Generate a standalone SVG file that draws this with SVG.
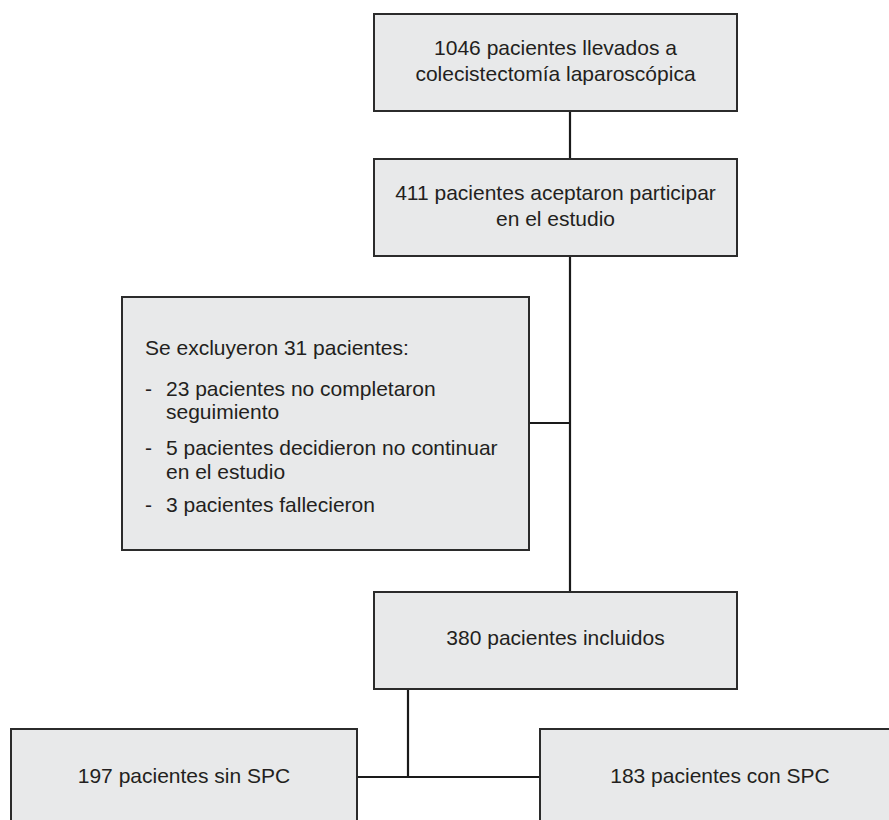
<svg xmlns="http://www.w3.org/2000/svg" width="889" height="820" viewBox="0 0 889 820">
<style>
.box{fill:#e8e9ea;stroke:#2b2b2b;stroke-width:2}
.t{font-family:"Liberation Sans",Arial,sans-serif;font-size:21px;fill:#231f20}
.c{text-anchor:middle}
.ln{stroke:#1a1a1a;stroke-width:2.2;fill:none}
</style>
<rect width="889" height="820" fill="#fff"/>
<g id="connectors">
<line class="ln" x1="570" y1="111" x2="570" y2="159"/>
<line class="ln" x1="570" y1="256" x2="570" y2="592"/>
<line class="ln" x1="529" y1="423" x2="570" y2="423"/>
<line class="ln" x1="408" y1="689" x2="408" y2="777"/>
<line class="ln" x1="357" y1="777" x2="540" y2="777"/>
</g>
<g id="n1">
<rect class="box" x="374" y="14" width="363" height="97"/>
<text class="t c" x="555.5" y="55">1046 pacientes llevados a</text>
<text class="t c" x="555.5" y="81">colecistectomía laparoscópica</text>
</g>
<g id="n2">
<rect class="box" x="374" y="159" width="363" height="97"/>
<text class="t c" x="555.5" y="200">411 pacientes aceptaron participar</text>
<text class="t c" x="555.5" y="226">en el estudio</text>
</g>
<g id="excl">
<rect class="box" x="122" y="297" width="407" height="253"/>
<text class="t" x="145" y="355">Se excluyeron 31 pacientes:</text>
<text class="t" x="145" y="396">-</text>
<text class="t" x="166" y="396">23 pacientes no completaron</text>
<text class="t" x="166" y="419">seguimiento</text>
<text class="t" x="145" y="455">-</text>
<text class="t" x="166" y="455">5 pacientes decidieron no continuar</text>
<text class="t" x="166" y="479">en el estudio</text>
<text class="t" x="145" y="512">-</text>
<text class="t" x="166" y="512">3 pacientes fallecieron</text>
</g>
<g id="n3">
<rect class="box" x="374" y="592" width="363" height="97"/>
<text class="t c" x="555.5" y="645">380 pacientes incluidos</text>
</g>
<g id="n4">
<rect class="box" x="11" y="729" width="346" height="110"/>
<text class="t c" x="184" y="783">197 pacientes sin SPC</text>
</g>
<g id="n5">
<rect class="box" x="540" y="729" width="370" height="110"/>
<text class="t c" x="720" y="783">183 pacientes con SPC</text>
</g>
</svg>
